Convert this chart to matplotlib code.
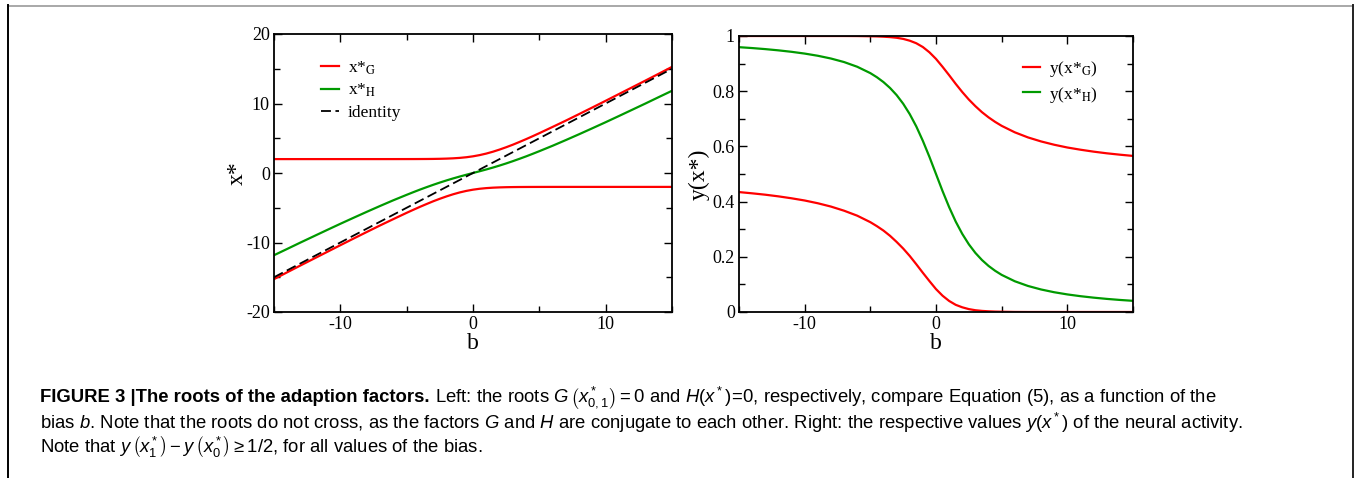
import numpy as np
import matplotlib
matplotlib.use('Agg')
import matplotlib.pyplot as plt
from matplotlib.lines import Line2D
from matplotlib.font_manager import FontProperties

plt.rcParams['axes.unicode_minus'] = False
plt.rcParams['mathtext.fontset'] = 'custom'
plt.rcParams['mathtext.rm'] = 'Liberation Sans'
plt.rcParams['mathtext.it'] = 'Liberation Sans:italic'
plt.rcParams['mathtext.sf'] = 'Liberation Sans'

# bias values
b = [-15, -14, -13, -12, -11, -10, -9, -8, -7, -6, -5,
     -4.5, -4, -3.5, -3, -2.5, -2, -1.5, -1, -0.5, 0,
     0.5, 1, 1.5, 2, 2.5, 3, 3.5, 4, 4.5,
     5, 6, 7, 8, 9, 10, 11, 12, 13, 14, 15]

# roots of G, upper branch x*_1
xG_upper = [2.0, 2.0, 2.0, 2.0, 2.0, 2.0, 2.0, 2.0, 2.0, 2.001, 2.004,
            2.006, 2.01, 2.016, 2.026, 2.043, 2.07, 2.111, 2.175, 2.268, 2.40,
            2.575, 2.795, 3.062, 3.37, 3.707, 4.07, 4.465, 4.87, 5.295,
            5.73, 6.63, 7.54, 8.48, 9.43, 10.39, 11.36, 12.33, 13.30, 14.28, 15.27]
# roots of G, lower branch x*_0
xG_lower = [-15.27, -14.28, -13.30, -12.33, -11.36, -10.39, -9.43, -8.48, -7.54, -6.63, -5.73,
            -5.295, -4.87, -4.465, -4.07, -3.707, -3.37, -3.062, -2.795, -2.575, -2.40,
            -2.268, -2.175, -2.111, -2.07, -2.043, -2.026, -2.016, -2.01, -2.006,
            -2.004, -2.001, -2.0, -2.0, -2.0, -2.0, -2.0, -2.0, -2.0, -2.0, -2.0]
# root of H
xH = [-11.83, -10.92, -10.0, -9.10, -8.20, -7.31, -6.44, -5.58, -4.74, -3.92, -3.14,
      -2.76, -2.39, -2.04, -1.70, -1.376, -1.07, -0.782, -0.51, -0.251, 0.0,
      0.251, 0.51, 0.782, 1.07, 1.376, 1.70, 2.04, 2.39, 2.76,
      3.14, 3.92, 4.74, 5.58, 6.44, 7.31, 8.20, 9.10, 10.0, 10.92, 11.83]

# neural activity at the roots
yG_upper = [1.0, 1.0, 1.0, 1.0, 1.0, 1.0, 1.0, 1.0, 1.0, 0.9998, 0.999,
            0.9985, 0.9975, 0.996, 0.9936, 0.9895, 0.983, 0.9737, 0.960, 0.9409, 0.917,
            0.8883, 0.858, 0.8266, 0.797, 0.7698, 0.7457, 0.724, 0.7053, 0.6889,
            0.6745, 0.651, 0.6326, 0.618, 0.606, 0.596, 0.588, 0.581, 0.575, 0.570, 0.5655]
yG_lower = [0.4345, 0.430, 0.425, 0.419, 0.412, 0.404, 0.394, 0.382, 0.367, 0.349, 0.3255,
            0.311, 0.295, 0.276, 0.254, 0.230, 0.203, 0.173, 0.142, 0.112, 0.083,
            0.059, 0.040, 0.026, 0.017, 0.0105, 0.0064, 0.004, 0.0025, 0.0015,
            0.001, 0.0002, 0.0, 0.0, 0.0, 0.0, 0.0, 0.0, 0.0, 0.0, 0.0]
yH = [0.9595, 0.9563, 0.9525, 0.948, 0.9427, 0.9363, 0.9284, 0.9184, 0.9056, 0.8886, 0.8655,
      0.8506, 0.833, 0.8117, 0.786, 0.7547, 0.717, 0.6723, 0.620, 0.562, 0.5,
      0.438, 0.380, 0.3277, 0.283, 0.2453, 0.214, 0.1883, 0.167, 0.1494,
      0.1345, 0.1114, 0.0944, 0.0816, 0.0716, 0.0637, 0.0573, 0.052, 0.0475, 0.0437, 0.0405]

xticks = [-10, 0, 10]
xticklabels = ['-10', '0', '10']
left_yticks = [-20, -10, 0, 10, 20]
left_yticklabels = ['-20', '-10', '0', '10', '20']
right_yticks = [0, 0.2, 0.4, 0.6, 0.8, 1]
right_yticklabels = ['0', '0.2', '0.4', '0.6', '0.8', '1']

RED = '#ff0000'
GREEN = '#009a00'
serif = 'Liberation Serif'

fig = plt.figure(figsize=(13.54, 4.78), dpi=100)

# page frame
fig.add_artist(Line2D([8 / 1354, 1353 / 1354], [1 - 5.5 / 478, 1 - 5.5 / 478],
                      transform=fig.transFigure, color='#9a9a9a', lw=1.2))
fig.add_artist(Line2D([8 / 1354, 8 / 1354], [0, 1 - 5 / 478],
                      transform=fig.transFigure, color='black', lw=1.4))
fig.add_artist(Line2D([1353 / 1354, 1353 / 1354], [0, 1 - 5 / 478],
                      transform=fig.transFigure, color='#222222', lw=1.4))

ax1 = fig.add_axes([274 / 1354, 1 - 312 / 478, 398 / 1354, 278 / 478])
ax2 = fig.add_axes([739 / 1354, 1 - 312 / 478, 394 / 1354, 276 / 478])


def style_axes(ax):
    ax.set_xlim(-15, 15)
    ax.set_xticks(xticks)
    ax.set_xticklabels(xticklabels)
    ax.set_xticks([-15, -5, 5, 15], minor=True)
    ax.tick_params(which='both', direction='in', top=True, right=True, width=1)
    ax.tick_params(which='major', length=6, labelsize=13, pad=3)
    ax.tick_params(which='minor', length=4)
    for s in ax.spines.values():
        s.set_linewidth(1.3)
    for lab in ax.get_xticklabels() + ax.get_yticklabels():
        lab.set_family(serif)
    ax.set_xlabel('b', family=serif, fontsize=17, labelpad=0)


# left panel: roots
ax1.plot(b, xG_upper, color=RED, lw=1.6, label=r'x*$_{\rm G}$')
ax1.plot(b, xG_lower, color=RED, lw=1.6)
ax1.plot(b, xH, color=GREEN, lw=1.6, label=r'x*$_{\rm H}$')
ax1.plot(b, b, color='black', lw=1.3, dashes=(5.5, 2.5), label='identity')
ax1.set_ylim(-20, 20)
ax1.set_yticks(left_yticks)
ax1.set_yticklabels(left_yticklabels)
ax1.set_yticks([-15, -5, 5, 15], minor=True)
style_axes(ax1)
ax1.set_ylabel('x*', family=serif, fontsize=17, labelpad=-1)

leg_font = FontProperties(family=serif, size=12.5, math_fontfamily='stix')
ax1.legend(loc='upper left', bbox_to_anchor=(0.08, 0.965), frameon=False,
           prop=leg_font, handlelength=1.0, handletextpad=0.5, labelspacing=0.3)

# right panel: activity
ax2.plot(b, yG_upper, color=RED, lw=1.6, label=r'y(x*$_{\rm G}$)')
ax2.plot(b, yG_lower, color=RED, lw=1.6)
ax2.plot(b, yH, color=GREEN, lw=1.6, label=r'y(x*$_{\rm H}$)')
ax2.set_ylim(0, 1)
ax2.set_yticks(right_yticks)
ax2.set_yticklabels(right_yticklabels)
ax2.set_yticks([0.1, 0.3, 0.5, 0.7, 0.9], minor=True)
style_axes(ax2)
ax2.set_ylabel('y(x*)', family=serif, fontsize=17, labelpad=2)
ax2.legend(loc='upper left', bbox_to_anchor=(0.68, 0.972), frameon=False,
           prop=leg_font, handlelength=1.0, handletextpad=0.5, labelspacing=0.3)

# caption
cap = 'Liberation Sans'
fs = 13.3
x0 = 40 / 1354
t1 = fig.text(x0, 1 - 398 / 478, 'FIGURE 3 |The roots of the adaption factors.',
              family=cap, weight='bold', fontsize=fs, va='center')
plt.annotate(r' Left: the roots $G\,\left(x^*_{0,1}\right) = 0$ and $H(x^*)\!=\!0$, respectively, '
             'compare Equation (5), as a function of the',
             xy=(1, 0.5), xycoords=t1, va='center', ha='left',
             family=cap, fontsize=fs, annotation_clip=False)
fig.text(x0, 1 - 423 / 478,
         r'bias $b$. Note that the roots do not cross, as the factors $G$ and $H$ are conjugate to '
         r'each other. Right: the respective values $y(x^*)$ of the neural activity.',
         family=cap, fontsize=fs, va='center')
fig.text(x0, 1 - 447 / 478,
         r'Note that $y\,\left(x^*_1\right) - y\,\left(x^*_0\right) \geq 1/2$, for all values of the bias.',
         family=cap, fontsize=fs, va='center')

fig.savefig('out.png', dpi=100)
